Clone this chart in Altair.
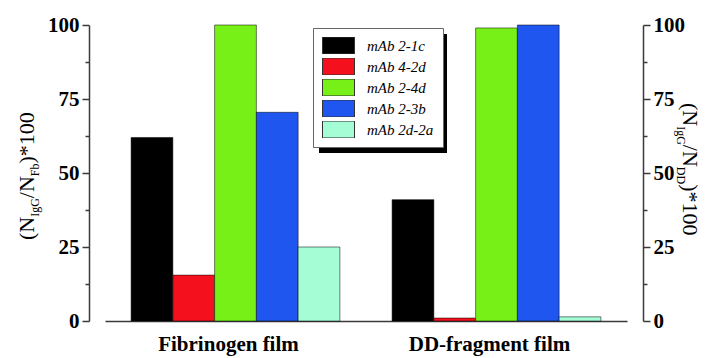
import altair as alt
import pandas as pd

films = ["Fibrinogen film", "DD-fragment film"]
series = ["mAb 2-1c", "mAb 4-2d", "mAb 2-4d", "mAb 2-3b", "mAb 2d-2a"]
fib_values = [62, 15.5, 100, 70.5, 25]
dd_values = [41, 1.0, 99, 100, 1.4]
colors = ["#000000", "#f5101e", "#77f017", "#1f56f0", "#a5fdd6"]
y_ticks = [0, 12.5, 25, 37.5, 50, 62.5, 75, 87.5, 100]

rows = []
for f, vals in zip(films, [fib_values, dd_values]):
    for s, v in zip(series, vals):
        rows.append({"film": f, "series": s, "value": v})
df = pd.DataFrame(rows)

FONT = "Liberation Serif"
W, H = 522, 296
AXC = "#3a3a3a"

x_enc = alt.X("film:N", sort=films,
              scale=alt.Scale(paddingInner=0.2, paddingOuter=0.1),
              axis=alt.Axis(title=None, labelAngle=0, ticks=False, domainColor=AXC,
                            domainWidth=1.5, labelFont=FONT, labelFontSize=21,
                            labelFontWeight="bold", labelColor="black", labelPadding=12,
                            labelOffset=-7))
xoff = alt.XOffset("series:N", sort=series, scale=alt.Scale(paddingInner=0, paddingOuter=0))


def yaxis(orient):
    return alt.Axis(orient=orient, values=y_ticks,
                    labelExpr="datum.value % 25 == 0 ? datum.label : ''",
                    tickSize={"condition": {"test": "datum.value % 25 == 0", "value": 7}, "value": 4},
                    offset=16, grid=False, title=None, domainColor=AXC, domainWidth=1.5,
                    tickColor=AXC, tickWidth=1.5, labelFont=FONT, labelFontSize=21,
                    labelFontWeight="bold", labelColor="black", labelPadding=3)


bars = alt.Chart(df).mark_bar(stroke="black", strokeWidth=1, strokeOpacity=0.5).encode(
    x=x_enc, xOffset=xoff,
    y=alt.Y("value:Q", scale=alt.Scale(domain=[0, 100], nice=False), axis=yaxis("left")),
    color=alt.Color("series:N", sort=series, scale=alt.Scale(domain=series, range=colors),
                    legend=alt.Legend(orient="none", legendX=208, legendY=3, title=None,
                                      symbolType="M-1,-0.53H1V0.53H-1Z", symbolSize=1024,
                                      symbolStrokeColor="#333", symbolStrokeWidth=1,
                                      clipHeight=17, rowPadding=4, labelFont=FONT,
                                      labelFontStyle="italic", labelFontSize=15, labelOffset=12,
                                      fillColor="white", strokeColor="#666", padding=9,
                                      symbolOpacity=1, labelColor="black")),
)

right = alt.Chart(df).mark_bar(opacity=0).encode(
    x=x_enc, xOffset=xoff,
    y=alt.Y("value:Q", scale=alt.Scale(domain=[0, 100], nice=False), axis=yaxis("right")),
)

shadow = alt.Chart(alt.Data(values=[{}])).mark_rect(color="black").encode(
    x=alt.value(214), x2=alt.value(342), y=alt.value(9), y2=alt.value(128))

# axis titles with subscripts (rotated text pieces)
MAIN, SUB = 22, 12


def wmain(t):
    m = {"(": 0.333, ")": 0.333, "N": 0.722, "/": 0.278, "*": 0.5, "1": 0.5, "0": 0.5}
    return sum(m.get(c, 0.5) for c in t) * MAIN


def wsub(t):
    m = {"I": 0.333, "g": 0.5, "G": 0.722, "F": 0.556, "b": 0.5, "D": 0.722}
    return sum(m.get(c, 0.5) for c in t) * SUB


def title_layers(pieces, start, base_main, base_sub, angle, direction):
    layers = []
    pos = start
    for txt, is_sub in pieces:
        w = wsub(txt) if is_sub else wmain(txt)
        layers.append(alt.Chart(alt.Data(values=[{}])).mark_text(
            angle=angle, align="left", baseline="alphabetic", font=FONT,
            fontSize=SUB if is_sub else MAIN, color="black").encode(
            x=alt.value(base_sub if is_sub else base_main), y=alt.value(pos),
            text=alt.value(txt)))
        pos += direction * w
    return layers


left_pieces = [("(N", False), ("IgG", True), ("/N", False), ("Fb", True), (")*100", False)]
right_pieces = [("(N", False), ("IgG", True), ("/N", False), ("DD", True), (")*100", False)]

left_title = title_layers(left_pieces, 215, -71, -66, 270, -1)
right_title = title_layers(right_pieces, 78, 578, 572, 90, 1)

chart = alt.layer(bars, right, shadow, *left_title, *right_title).resolve_scale(
    y="shared").resolve_axis(y="independent").properties(
    width=W, height=H, autosize=alt.AutoSizeParams(type="none"),
    padding={"left": 97, "top": 17, "right": 75, "bottom": 37},
    background="white"
).configure_view(stroke=None)

chart.save("out.html", embed_options={"renderer": "svg", "actions": False})
